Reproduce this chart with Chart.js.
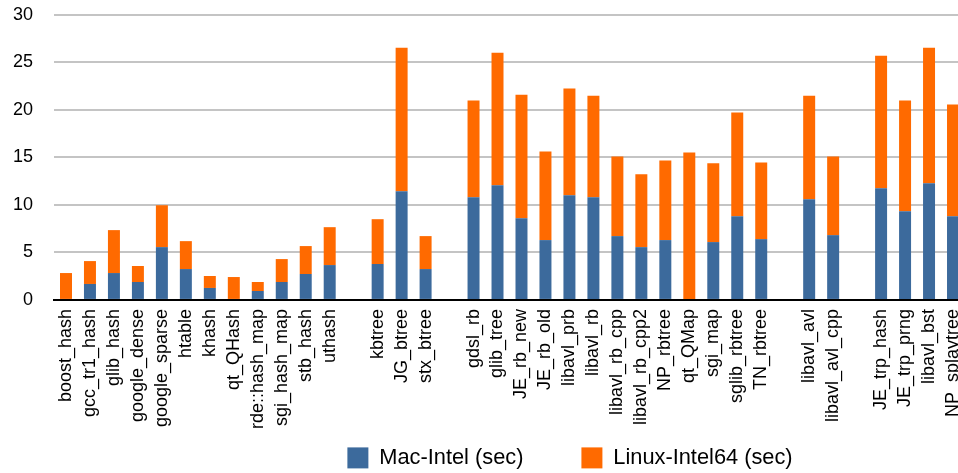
<!DOCTYPE html>
<html>
<head>
<meta charset="utf-8">
<script src="https://cdn.jsdelivr.net/npm/chart.js@4/dist/chart.umd.min.js"></script>
<style>
  html, body { margin: 0; padding: 0; background: #fff; overflow: hidden; }
  .wrap { width: 965px; height: 473px; }
</style>
</head>
<body>
<div class="wrap"><canvas id="timings"></canvas></div>
<script>
// '' entries are the empty slots between groups of containers
const categories = [
  'boost_hash', 'gcc_tr1_hash', 'glib_hash', 'google_dense', 'google_sparse', 'htable',
  'khash', 'qt_QHash', 'rde::hash_map', 'sgi_hash_map', 'stb_hash', 'uthash',
  '',
  'kbtree', 'JG_btree', 'stx_btree',
  '',
  'gdsl_rb', 'glib_tree', 'JE_rb_new', 'JE_rb_old', 'libavl_prb', 'libavl_rb',
  'libavl_rb_cpp', 'libavl_rb_cpp2', 'NP_rbtree', 'qt_QMap', 'sgi_map', 'sglib_rbtree', 'TN_rbtree',
  '',
  'libavl_avl', 'libavl_avl_cpp',
  '',
  'JE_trp_hash', 'JE_trp_prng', 'libavl_bst', 'NP_splaytree'
]

const macIntel = [
  0, 1.68, 2.83, 1.89, 5.56, 3.25, 1.26, 0, 0.94, 1.89, 2.73, 3.67,
  null,
  3.78, 11.44, 3.25,
  null,
  10.81, 12.07, 8.6, 6.3, 11.02, 10.81, 6.72, 5.56, 6.3, 0, 6.09, 8.81, 6.4,
  null,
  10.6, 6.82,
  null,
  11.75, 9.34, 12.28, 8.81
]

const linuxIntel64 = [
  2.83, 2.41, 4.52, 1.68, 4.41, 2.94, 1.26, 2.41, 0.95, 2.41, 2.94, 3.99,
  null,
  4.72, 15.11, 3.47,
  null,
  10.18, 13.95, 13.0, 9.33, 11.23, 10.7, 8.39, 7.66, 8.39, 15.53, 8.29, 10.92, 8.08,
  null,
  10.91, 8.29,
  null,
  13.96, 11.65, 14.27, 11.76
]

const yTicks = [0, 5, 10, 15, 20, 25, 30]

const FONT = "'Liberation Sans', Arial, Helvetica, sans-serif"

// legend sits right of centre and close under the labels in the original.
// only top moves so the legend clip box still reaches the bottom
const legendShift = {
  id: 'legendShift',
  afterLayout(chart) {
    const lg = chart.legend
    if (!lg) return
    lg.left += 81
    lg.right += 81
    lg.top = chart.height - 26 - lg.options.labels.padding
  }
}

const ctx = document.getElementById('timings').getContext('2d')

new Chart(ctx, {
  type: 'bar',
  data: {
    labels: categories,
    datasets: [{
      label: 'Mac-Intel (sec)',
      data: macIntel,
      backgroundColor: '#3c6a9c'
    }, {
      label: 'Linux-Intel64 (sec)',
      data: linuxIntel64,
      backgroundColor: '#ff6a00'
    }]
  },
  options: {
    responsive: true,
    maintainAspectRatio: false,
    animation: false,
    barPercentage: 0.5,
    categoryPercentage: 1,
    layout: { padding: { left: 13, top: 0, right: 0, bottom: 2 } },
    scales: {
      x: {
        stacked: true,
        afterFit(axis) {
          // the last label runs off the edge in the original, no room kept for it
          axis.paddingLeft = 0
          axis.paddingRight = 0
        },
        grid: { display: false, drawTicks: false },
        border: { display: true, color: '#000', width: 2 },
        ticks: {
          autoSkip: false,
          maxRotation: 90,
          minRotation: 90,
          padding: 9,
          color: '#000',
          font: { family: FONT, size: 18 }
        }
      },
      y: {
        stacked: true,
        min: 0,
        max: 30,
        afterBuildTicks(axis) {
          axis.ticks = yTicks.map(v => ({ value: v }))
        },
        afterFit(axis) {
          axis.width = 41
          axis.paddingTop = 15
          axis.paddingBottom = 0
        },
        grid: { color: '#c4c4c4', lineWidth: 2, drawTicks: false },
        border: { display: false },
        ticks: {
          padding: 21,
          color: '#000',
          font: { family: FONT, size: 18 }
        }
      }
    },
    plugins: {
      tooltip: { enabled: false },
      legend: {
        position: 'bottom',
        maxHeight: 33,
        labels: {
          boxWidth: 21,
          boxHeight: 21,
          padding: 58,
          color: '#000',
          font: { family: FONT, size: 21.8 }
        }
      }
    }
  },
  plugins: [legendShift]
})
</script>
</body>
</html>
